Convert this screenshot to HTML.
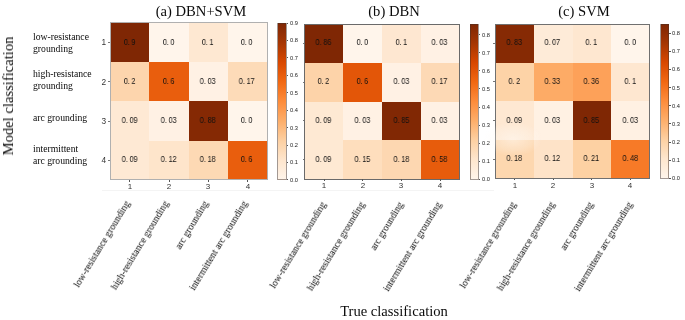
<!DOCTYPE html>
<html><head><meta charset="utf-8"><title>Confusion matrices</title>
<style>
html,body{margin:0;padding:0;background:#fff;}
body{width:685px;height:320px;position:relative;overflow:hidden;font-family:"Liberation Sans",sans-serif;color:#262626;}
.abs{position:absolute;}
.title,.rl,.v,.tk,.ct,.xl{will-change:transform;}

.cell{position:absolute;}
.v{position:absolute;font-size:8.6px;line-height:10px;height:10px;text-align:center;white-space:nowrap;transform:scaleX(0.84);color:#111;}
.v i{font-style:normal;margin-right:2px;}
.title{position:absolute;font-family:"Liberation Serif",serif;font-size:14.6px;line-height:16px;white-space:nowrap;color:#0a0a0a;transform:translateX(-50%);}
.rl{position:absolute;font-family:"Liberation Serif",serif;font-size:9.7px;line-height:11.6px;white-space:nowrap;color:#0a0a0a;}
.tk{position:absolute;font-size:8px;line-height:8px;height:8px;white-space:nowrap;color:#333;}
.ct{position:absolute;font-size:5.7px;line-height:6px;height:6px;white-space:nowrap;color:#222;}
.xl{position:absolute;font-family:"Liberation Serif",serif;font-size:9.8px;line-height:11px;white-space:nowrap;color:#0a0a0a;transform-origin:100% 50%;}
.frame{position:absolute;border:1px solid #9a9a9a;box-sizing:border-box;}
.tick{position:absolute;background:#555;}
</style></head><body>

<div class="abs" style="left:102px;top:190px;width:392px;height:1px;background:#f4f4f4"></div>
<div class="abs" style="left:7.8px;top:95.7px;width:0;height:0"><div style="position:absolute;font-family:'Liberation Serif',serif;font-size:14.6px;line-height:16px;white-space:nowrap;color:#0a0a0a;transform:translate(-50%,-50%) rotate(-90deg);will-change:transform;">Model classification</div></div>
<div class="title" style="left:393.6px;top:302.7px;">True classification</div>
<div class="rl" style="left:32.5px;top:30.6px">low-resistance<br>grounding</div>
<div class="rl" style="left:32.5px;top:68.2px">high-resistance<br>grounding</div>
<div class="rl" style="left:32.5px;top:112px">arc grounding</div>
<div class="rl" style="left:32.5px;top:143px">intermittent<br>arc grounding</div>
<div class="title" style="left:201.3px;top:2.5px">(a) DBN+SVM</div>
<div class="cell" style="left:110.00px;top:22.80px;width:39.61px;height:39.60px;background:#7f2704"></div>
<div class="v" style="left:109.50px;top:36.55px;width:39.31px"><i>0.</i>9</div>
<div class="cell" style="left:149.31px;top:22.80px;width:39.61px;height:39.60px;background:#fff5eb"></div>
<div class="v" style="left:148.81px;top:36.55px;width:39.31px"><i>0.</i>0</div>
<div class="cell" style="left:188.62px;top:22.80px;width:39.61px;height:39.60px;background:#fee8d2"></div>
<div class="v" style="left:188.12px;top:36.55px;width:39.31px"><i>0.</i>1</div>
<div class="cell" style="left:227.94px;top:22.80px;width:39.61px;height:39.60px;background:#fff5eb"></div>
<div class="v" style="left:227.44px;top:36.55px;width:39.31px"><i>0.</i>0</div>
<div class="cell" style="left:110.00px;top:62.10px;width:39.61px;height:39.60px;background:#fdd5ad"></div>
<div class="v" style="left:109.50px;top:75.85px;width:39.31px"><i>0.</i>2</div>
<div class="cell" style="left:149.31px;top:62.10px;width:39.61px;height:39.60px;background:#e95e0d"></div>
<div class="v" style="left:148.81px;top:75.85px;width:39.31px"><i>0.</i>6</div>
<div class="cell" style="left:188.62px;top:62.10px;width:39.61px;height:39.60px;background:#fff1e4"></div>
<div class="v" style="left:188.12px;top:75.85px;width:39.31px"><i>0.</i>03</div>
<div class="cell" style="left:227.94px;top:62.10px;width:39.61px;height:39.60px;background:#fddbb8"></div>
<div class="v" style="left:227.44px;top:75.85px;width:39.31px"><i>0.</i>17</div>
<div class="cell" style="left:110.00px;top:101.40px;width:39.61px;height:39.60px;background:#fee9d4"></div>
<div class="v" style="left:109.50px;top:115.15px;width:39.31px"><i>0.</i>09</div>
<div class="cell" style="left:149.31px;top:101.40px;width:39.61px;height:39.60px;background:#fff1e4"></div>
<div class="v" style="left:148.81px;top:115.15px;width:39.31px"><i>0.</i>03</div>
<div class="cell" style="left:188.62px;top:101.40px;width:39.61px;height:39.60px;background:#852904"></div>
<div class="v" style="left:188.12px;top:115.15px;width:39.31px"><i>0.</i>88</div>
<div class="cell" style="left:227.94px;top:101.40px;width:39.61px;height:39.60px;background:#fff5eb"></div>
<div class="v" style="left:227.44px;top:115.15px;width:39.31px"><i>0.</i>0</div>
<div class="cell" style="left:110.00px;top:140.70px;width:39.61px;height:39.60px;background:#fee9d4"></div>
<div class="v" style="left:109.50px;top:154.45px;width:39.31px"><i>0.</i>09</div>
<div class="cell" style="left:149.31px;top:140.70px;width:39.61px;height:39.60px;background:#fee5cb"></div>
<div class="v" style="left:148.81px;top:154.45px;width:39.31px"><i>0.</i>12</div>
<div class="cell" style="left:188.62px;top:140.70px;width:39.61px;height:39.60px;background:#fdd9b4"></div>
<div class="v" style="left:188.12px;top:154.45px;width:39.31px"><i>0.</i>18</div>
<div class="cell" style="left:227.94px;top:140.70px;width:39.61px;height:39.60px;background:#e95e0d"></div>
<div class="v" style="left:227.44px;top:154.45px;width:39.31px"><i>0.</i>6</div>
<div class="frame" style="left:109.50px;top:22.30px;width:158.25px;height:158.20px;border-color:#b0b0b0"></div>
<div class="tick" style="left:129.26px;top:180.30px;width:0.8px;height:1.8px"></div>
<div class="tk" style="left:124.66px;top:183.00px;width:10px;text-align:center">1</div>
<div class="xl" style="right:558.14px;top:196.30px;transform:rotate(-58.7deg)">low-resistance grounding</div>
<div class="tick" style="left:168.57px;top:180.30px;width:0.8px;height:1.8px"></div>
<div class="tk" style="left:163.97px;top:183.00px;width:10px;text-align:center">2</div>
<div class="xl" style="right:518.83px;top:196.30px;transform:rotate(-58.7deg)">high-resistance grounding</div>
<div class="tick" style="left:207.88px;top:180.30px;width:0.8px;height:1.8px"></div>
<div class="tk" style="left:203.28px;top:183.00px;width:10px;text-align:center">3</div>
<div class="xl" style="right:479.52px;top:196.30px;transform:rotate(-58.7deg)">arc grounding</div>
<div class="tick" style="left:247.19px;top:180.30px;width:0.8px;height:1.8px"></div>
<div class="tk" style="left:242.59px;top:183.00px;width:10px;text-align:center">4</div>
<div class="xl" style="right:440.21px;top:196.30px;transform:rotate(-58.7deg)">intermittent arc grounding</div>
<div class="tick" style="left:107.50px;top:42.05px;width:2px;height:0.8px;background:#777"></div>
<div class="tk" style="left:98.40px;top:38.45px;width:8px;text-align:right;font-size:8.3px;line-height:9px">1</div>
<div class="tick" style="left:107.50px;top:81.35px;width:2px;height:0.8px;background:#777"></div>
<div class="tk" style="left:98.40px;top:77.75px;width:8px;text-align:right;font-size:8.3px;line-height:9px">2</div>
<div class="tick" style="left:107.50px;top:120.65px;width:2px;height:0.8px;background:#777"></div>
<div class="tk" style="left:98.40px;top:117.05px;width:8px;text-align:right;font-size:8.3px;line-height:9px">3</div>
<div class="tick" style="left:107.50px;top:159.95px;width:2px;height:0.8px;background:#777"></div>
<div class="tk" style="left:98.40px;top:156.35px;width:8px;text-align:right;font-size:8.3px;line-height:9px">4</div>
<div class="abs" style="left:277.75px;top:23.00px;width:8.50px;height:156.75px;background:linear-gradient(to bottom,#7f2704 0.00%,#912e04 6.25%,#a53603 12.50%,#be3f02 18.75%,#d84801 25.00%,#e4580a 31.25%,#f16813 37.50%,#f77a27 43.75%,#fd8c3b 50.00%,#fd9d53 56.25%,#fdae6a 62.50%,#fdbf86 68.75%,#fdd0a2 75.00%,#fddbb8 81.25%,#fee6ce 87.50%,#feeddc 93.75%,#fff5eb 100.00%)"></div>
<div class="frame" style="left:277.25px;top:22.50px;width:9.50px;height:157.75px;border-color:rgba(70,50,40,0.5)"></div>
<div class="tick" style="left:286.55px;top:179.35px;width:1.6px;height:0.8px"></div>
<div class="ct" style="left:289.75px;top:176.75px">0.0</div>
<div class="tick" style="left:286.55px;top:161.93px;width:1.6px;height:0.8px"></div>
<div class="ct" style="left:289.75px;top:159.33px">0.1</div>
<div class="tick" style="left:286.55px;top:144.52px;width:1.6px;height:0.8px"></div>
<div class="ct" style="left:289.75px;top:141.92px">0.2</div>
<div class="tick" style="left:286.55px;top:127.10px;width:1.6px;height:0.8px"></div>
<div class="ct" style="left:289.75px;top:124.50px">0.3</div>
<div class="tick" style="left:286.55px;top:109.68px;width:1.6px;height:0.8px"></div>
<div class="ct" style="left:289.75px;top:107.08px">0.4</div>
<div class="tick" style="left:286.55px;top:92.27px;width:1.6px;height:0.8px"></div>
<div class="ct" style="left:289.75px;top:89.67px">0.5</div>
<div class="tick" style="left:286.55px;top:74.85px;width:1.6px;height:0.8px"></div>
<div class="ct" style="left:289.75px;top:72.25px">0.6</div>
<div class="tick" style="left:286.55px;top:57.43px;width:1.6px;height:0.8px"></div>
<div class="ct" style="left:289.75px;top:54.83px">0.7</div>
<div class="tick" style="left:286.55px;top:40.02px;width:1.6px;height:0.8px"></div>
<div class="ct" style="left:289.75px;top:37.42px">0.8</div>
<div class="tick" style="left:286.55px;top:22.60px;width:1.6px;height:0.8px"></div>
<div class="ct" style="left:289.75px;top:20.00px">0.9</div>
<div class="title" style="left:393.9px;top:2.5px">(b) DBN</div>
<div class="cell" style="left:304.60px;top:24.00px;width:39.02px;height:39.05px;background:#7f2704"></div>
<div class="v" style="left:304.10px;top:37.48px;width:38.72px"><i>0.</i>86</div>
<div class="cell" style="left:343.33px;top:24.00px;width:39.02px;height:39.05px;background:#fff5eb"></div>
<div class="v" style="left:342.83px;top:37.48px;width:38.72px"><i>0.</i>0</div>
<div class="cell" style="left:382.05px;top:24.00px;width:39.02px;height:39.05px;background:#fee7d1"></div>
<div class="v" style="left:381.55px;top:37.48px;width:38.72px"><i>0.</i>1</div>
<div class="cell" style="left:420.77px;top:24.00px;width:39.02px;height:39.05px;background:#fff1e4"></div>
<div class="v" style="left:420.27px;top:37.48px;width:38.72px"><i>0.</i>03</div>
<div class="cell" style="left:304.60px;top:62.75px;width:39.02px;height:39.05px;background:#fdd3a9"></div>
<div class="v" style="left:304.10px;top:76.22px;width:38.72px"><i>0.</i>2</div>
<div class="cell" style="left:343.33px;top:62.75px;width:39.02px;height:39.05px;background:#e35608"></div>
<div class="v" style="left:342.83px;top:76.22px;width:38.72px"><i>0.</i>6</div>
<div class="cell" style="left:382.05px;top:62.75px;width:39.02px;height:39.05px;background:#fff1e4"></div>
<div class="v" style="left:381.55px;top:76.22px;width:38.72px"><i>0.</i>03</div>
<div class="cell" style="left:420.77px;top:62.75px;width:39.02px;height:39.05px;background:#fdd9b5"></div>
<div class="v" style="left:420.27px;top:76.22px;width:38.72px"><i>0.</i>17</div>
<div class="cell" style="left:304.60px;top:101.50px;width:39.02px;height:39.05px;background:#fee9d3"></div>
<div class="v" style="left:304.10px;top:114.97px;width:38.72px"><i>0.</i>09</div>
<div class="cell" style="left:343.33px;top:101.50px;width:39.02px;height:39.05px;background:#fff1e4"></div>
<div class="v" style="left:342.83px;top:114.97px;width:38.72px"><i>0.</i>03</div>
<div class="cell" style="left:382.05px;top:101.50px;width:39.02px;height:39.05px;background:#812804"></div>
<div class="v" style="left:381.55px;top:114.97px;width:38.72px"><i>0.</i>85</div>
<div class="cell" style="left:420.77px;top:101.50px;width:39.02px;height:39.05px;background:#fff1e4"></div>
<div class="v" style="left:420.27px;top:114.97px;width:38.72px"><i>0.</i>03</div>
<div class="cell" style="left:304.60px;top:140.25px;width:39.02px;height:39.05px;background:#fee9d3"></div>
<div class="v" style="left:304.10px;top:153.72px;width:38.72px"><i>0.</i>09</div>
<div class="cell" style="left:343.33px;top:140.25px;width:39.02px;height:39.05px;background:#fedebd"></div>
<div class="v" style="left:342.83px;top:153.72px;width:38.72px"><i>0.</i>15</div>
<div class="cell" style="left:382.05px;top:140.25px;width:39.02px;height:39.05px;background:#fdd7b1"></div>
<div class="v" style="left:381.55px;top:153.72px;width:38.72px"><i>0.</i>18</div>
<div class="cell" style="left:420.77px;top:140.25px;width:39.02px;height:39.05px;background:#e75c0c"></div>
<div class="v" style="left:420.27px;top:153.72px;width:38.72px"><i>0.</i>58</div>
<div class="frame" style="left:304.10px;top:23.50px;width:155.90px;height:156.00px;border-color:#6a6a6a"></div>
<div class="tick" style="left:323.56px;top:179.30px;width:0.8px;height:1.8px"></div>
<div class="tk" style="left:318.96px;top:182.30px;width:10px;text-align:center">1</div>
<div class="xl" style="right:362.04px;top:196.80px;transform:rotate(-58.7deg)">low-resistance grounding</div>
<div class="tick" style="left:362.29px;top:179.30px;width:0.8px;height:1.8px"></div>
<div class="tk" style="left:357.69px;top:182.30px;width:10px;text-align:center">2</div>
<div class="xl" style="right:323.31px;top:196.80px;transform:rotate(-58.7deg)">high-resistance grounding</div>
<div class="tick" style="left:401.01px;top:179.30px;width:0.8px;height:1.8px"></div>
<div class="tk" style="left:396.41px;top:182.30px;width:10px;text-align:center">3</div>
<div class="xl" style="right:284.59px;top:196.80px;transform:rotate(-58.7deg)">arc grounding</div>
<div class="tick" style="left:439.74px;top:179.30px;width:0.8px;height:1.8px"></div>
<div class="tk" style="left:435.14px;top:182.30px;width:10px;text-align:center">4</div>
<div class="xl" style="right:245.86px;top:196.80px;transform:rotate(-58.7deg)">intermittent arc grounding</div>
<div class="tick" style="left:302.60px;top:42.98px;width:1.5px;height:0.8px;background:#777"></div>
<div class="tick" style="left:302.60px;top:81.72px;width:1.5px;height:0.8px;background:#777"></div>
<div class="tick" style="left:302.60px;top:120.47px;width:1.5px;height:0.8px;background:#777"></div>
<div class="tick" style="left:302.60px;top:159.22px;width:1.5px;height:0.8px;background:#777"></div>
<div class="abs" style="left:470.00px;top:24.00px;width:8.25px;height:155.00px;background:linear-gradient(to bottom,#7f2704 0.00%,#912e04 6.25%,#a53603 12.50%,#be3f02 18.75%,#d84801 25.00%,#e4580a 31.25%,#f16813 37.50%,#f77a27 43.75%,#fd8c3b 50.00%,#fd9d53 56.25%,#fdae6a 62.50%,#fdbf86 68.75%,#fdd0a2 75.00%,#fddbb8 81.25%,#fee6ce 87.50%,#feeddc 93.75%,#fff5eb 100.00%)"></div>
<div class="frame" style="left:469.50px;top:23.50px;width:9.25px;height:156.00px;border-color:rgba(70,50,40,0.5)"></div>
<div class="tick" style="left:478.55px;top:178.60px;width:1.6px;height:0.8px"></div>
<div class="ct" style="left:481.75px;top:176.00px">0.0</div>
<div class="tick" style="left:478.55px;top:160.58px;width:1.6px;height:0.8px"></div>
<div class="ct" style="left:481.75px;top:157.98px">0.1</div>
<div class="tick" style="left:478.55px;top:142.55px;width:1.6px;height:0.8px"></div>
<div class="ct" style="left:481.75px;top:139.95px">0.2</div>
<div class="tick" style="left:478.55px;top:124.53px;width:1.6px;height:0.8px"></div>
<div class="ct" style="left:481.75px;top:121.93px">0.3</div>
<div class="tick" style="left:478.55px;top:106.51px;width:1.6px;height:0.8px"></div>
<div class="ct" style="left:481.75px;top:103.91px">0.4</div>
<div class="tick" style="left:478.55px;top:88.48px;width:1.6px;height:0.8px"></div>
<div class="ct" style="left:481.75px;top:85.88px">0.5</div>
<div class="tick" style="left:478.55px;top:70.46px;width:1.6px;height:0.8px"></div>
<div class="ct" style="left:481.75px;top:67.86px">0.6</div>
<div class="tick" style="left:478.55px;top:52.44px;width:1.6px;height:0.8px"></div>
<div class="ct" style="left:481.75px;top:49.84px">0.7</div>
<div class="tick" style="left:478.55px;top:34.41px;width:1.6px;height:0.8px"></div>
<div class="ct" style="left:481.75px;top:31.81px">0.8</div>
<div class="title" style="left:584.4px;top:2.5px">(c) SVM</div>
<div class="cell" style="left:495.30px;top:24.00px;width:38.90px;height:38.88px;background:#862a04"></div>
<div class="v" style="left:494.80px;top:37.39px;width:38.60px"><i>0.</i>83</div>
<div class="cell" style="left:533.90px;top:24.00px;width:38.90px;height:38.88px;background:#feebd8"></div>
<div class="v" style="left:533.40px;top:37.39px;width:38.60px"><i>0.</i>07</div>
<div class="cell" style="left:572.50px;top:24.00px;width:38.90px;height:38.88px;background:#fee7d0"></div>
<div class="v" style="left:572.00px;top:37.39px;width:38.60px"><i>0.</i>1</div>
<div class="cell" style="left:611.10px;top:24.00px;width:38.90px;height:38.88px;background:#fff5eb"></div>
<div class="v" style="left:610.60px;top:37.39px;width:38.60px"><i>0.</i>0</div>
<div class="cell" style="left:495.30px;top:62.58px;width:38.90px;height:38.88px;background:#fdd3a7"></div>
<div class="v" style="left:494.80px;top:75.96px;width:38.60px"><i>0.</i>2</div>
<div class="cell" style="left:533.90px;top:62.58px;width:38.90px;height:38.88px;background:#fdab66"></div>
<div class="v" style="left:533.40px;top:75.96px;width:38.60px"><i>0.</i>33</div>
<div class="cell" style="left:572.50px;top:62.58px;width:38.90px;height:38.88px;background:#fda159"></div>
<div class="v" style="left:572.00px;top:75.96px;width:38.60px"><i>0.</i>36</div>
<div class="cell" style="left:611.10px;top:62.58px;width:38.90px;height:38.88px;background:#fee7d0"></div>
<div class="v" style="left:610.60px;top:75.96px;width:38.60px"><i>0.</i>1</div>
<div class="cell" style="left:495.30px;top:101.15px;width:38.90px;height:38.88px;background:#fee8d2"></div>
<div class="v" style="left:494.80px;top:114.54px;width:38.60px"><i>0.</i>09</div>
<div class="cell" style="left:533.90px;top:101.15px;width:38.90px;height:38.88px;background:#fff1e3"></div>
<div class="v" style="left:533.40px;top:114.54px;width:38.60px"><i>0.</i>03</div>
<div class="cell" style="left:572.50px;top:101.15px;width:38.90px;height:38.88px;background:#7f2704"></div>
<div class="v" style="left:572.00px;top:114.54px;width:38.60px"><i>0.</i>85</div>
<div class="cell" style="left:611.10px;top:101.15px;width:38.90px;height:38.88px;background:#fff1e3"></div>
<div class="v" style="left:610.60px;top:114.54px;width:38.60px"><i>0.</i>03</div>
<div class="cell" style="left:495.30px;top:139.73px;width:38.90px;height:38.88px;background:#fdd7af"></div>
<div class="v" style="left:494.80px;top:153.11px;width:38.60px"><i>0.</i>18</div>
<div class="cell" style="left:533.90px;top:139.73px;width:38.90px;height:38.88px;background:#fee3c8"></div>
<div class="v" style="left:533.40px;top:153.11px;width:38.60px"><i>0.</i>12</div>
<div class="cell" style="left:572.50px;top:139.73px;width:38.90px;height:38.88px;background:#fdd1a3"></div>
<div class="v" style="left:572.00px;top:153.11px;width:38.60px"><i>0.</i>21</div>
<div class="cell" style="left:611.10px;top:139.73px;width:38.90px;height:38.88px;background:#f77a27"></div>
<div class="v" style="left:610.60px;top:153.11px;width:38.60px"><i>0.</i>48</div>
<div class="frame" style="left:494.80px;top:23.50px;width:155.40px;height:155.30px;border-color:#707070"></div>
<div class="tick" style="left:514.20px;top:178.60px;width:0.8px;height:1.8px"></div>
<div class="tk" style="left:509.60px;top:182.00px;width:10px;text-align:center">1</div>
<div class="xl" style="right:171.40px;top:196.80px;transform:rotate(-58.7deg)">low-resistance grounding</div>
<div class="tick" style="left:552.80px;top:178.60px;width:0.8px;height:1.8px"></div>
<div class="tk" style="left:548.20px;top:182.00px;width:10px;text-align:center">2</div>
<div class="xl" style="right:132.80px;top:196.80px;transform:rotate(-58.7deg)">high-resistance grounding</div>
<div class="tick" style="left:591.40px;top:178.60px;width:0.8px;height:1.8px"></div>
<div class="tk" style="left:586.80px;top:182.00px;width:10px;text-align:center">3</div>
<div class="xl" style="right:94.20px;top:196.80px;transform:rotate(-58.7deg)">arc grounding</div>
<div class="tick" style="left:630.00px;top:178.60px;width:0.8px;height:1.8px"></div>
<div class="tk" style="left:625.40px;top:182.00px;width:10px;text-align:center">4</div>
<div class="xl" style="right:55.60px;top:196.80px;transform:rotate(-58.7deg)">intermittent arc grounding</div>
<div class="tick" style="left:493.30px;top:42.89px;width:1.5px;height:0.8px;background:#777"></div>
<div class="tick" style="left:493.30px;top:81.46px;width:1.5px;height:0.8px;background:#777"></div>
<div class="tick" style="left:493.30px;top:120.04px;width:1.5px;height:0.8px;background:#777"></div>
<div class="tick" style="left:493.30px;top:158.61px;width:1.5px;height:0.8px;background:#777"></div>
<div class="abs" style="left:660.80px;top:24.00px;width:7.95px;height:154.30px;background:linear-gradient(to bottom,#7f2704 0.00%,#912e04 6.25%,#a53603 12.50%,#be3f02 18.75%,#d84801 25.00%,#e4580a 31.25%,#f16813 37.50%,#f77a27 43.75%,#fd8c3b 50.00%,#fd9d53 56.25%,#fdae6a 62.50%,#fdbf86 68.75%,#fdd0a2 75.00%,#fddbb8 81.25%,#fee6ce 87.50%,#feeddc 93.75%,#fff5eb 100.00%)"></div>
<div class="frame" style="left:660.30px;top:23.50px;width:8.95px;height:155.30px;border-color:rgba(70,50,40,0.5)"></div>
<div class="tick" style="left:669.05px;top:177.90px;width:1.6px;height:0.8px"></div>
<div class="ct" style="left:672.25px;top:175.30px">0.0</div>
<div class="tick" style="left:669.05px;top:159.75px;width:1.6px;height:0.8px"></div>
<div class="ct" style="left:672.25px;top:157.15px">0.1</div>
<div class="tick" style="left:669.05px;top:141.59px;width:1.6px;height:0.8px"></div>
<div class="ct" style="left:672.25px;top:138.99px">0.2</div>
<div class="tick" style="left:669.05px;top:123.44px;width:1.6px;height:0.8px"></div>
<div class="ct" style="left:672.25px;top:120.84px">0.3</div>
<div class="tick" style="left:669.05px;top:105.29px;width:1.6px;height:0.8px"></div>
<div class="ct" style="left:672.25px;top:102.69px">0.4</div>
<div class="tick" style="left:669.05px;top:87.14px;width:1.6px;height:0.8px"></div>
<div class="ct" style="left:672.25px;top:84.54px">0.5</div>
<div class="tick" style="left:669.05px;top:68.98px;width:1.6px;height:0.8px"></div>
<div class="ct" style="left:672.25px;top:66.38px">0.6</div>
<div class="tick" style="left:669.05px;top:50.83px;width:1.6px;height:0.8px"></div>
<div class="ct" style="left:672.25px;top:48.23px">0.7</div>
<div class="tick" style="left:669.05px;top:32.68px;width:1.6px;height:0.8px"></div>
<div class="ct" style="left:672.25px;top:30.08px">0.8</div>
<div class="abs" style="left:484px;top:122px;width:58px;height:34px;background:radial-gradient(ellipse at center,rgba(255,250,244,0.55) 0%,rgba(255,250,244,0.25) 45%,rgba(255,250,244,0) 72%)"></div>
</body></html>
